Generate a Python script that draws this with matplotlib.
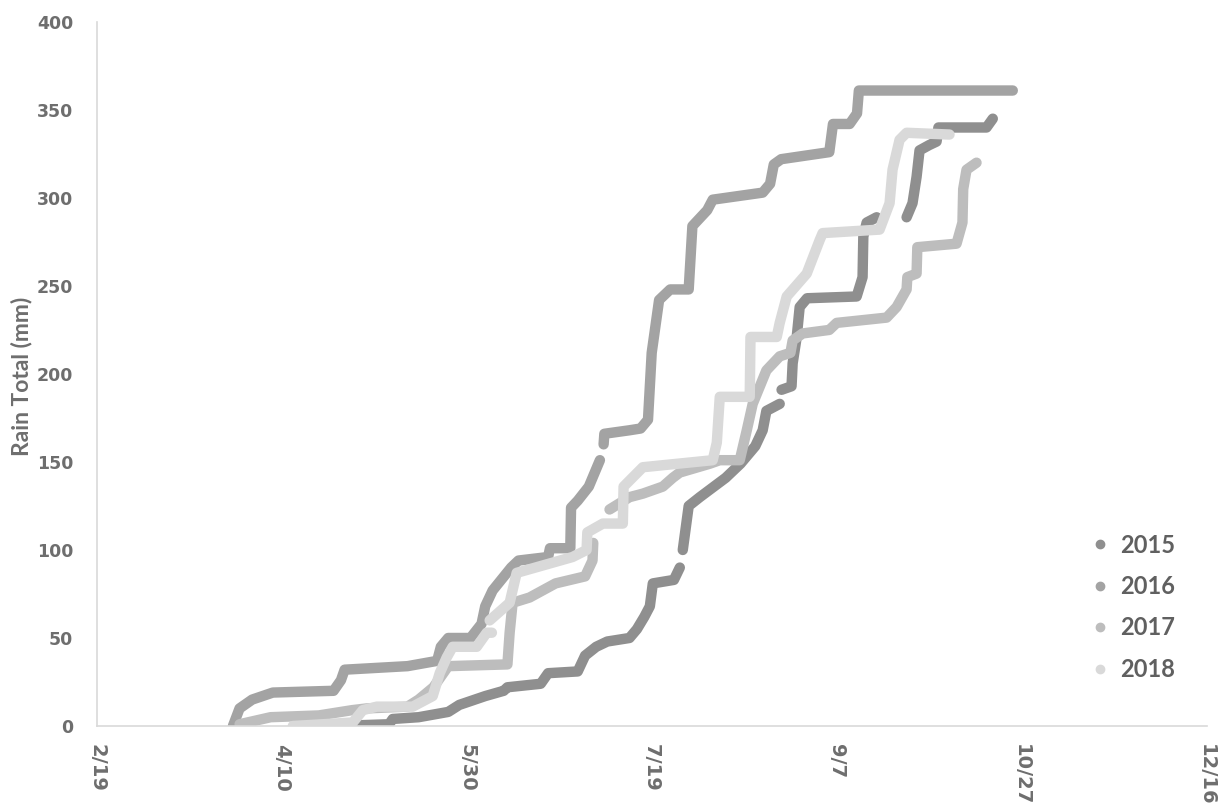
import numpy as np
import matplotlib
matplotlib.use("Agg")
import matplotlib.pyplot as plt
from matplotlib.lines import Line2D

# day of year (2/19 = 50) and cumulative rain (mm); None = gap in record
day_2015 = [115, 129, 130, 137, 145, 148, 155, 160, 161, 170, 172, 180, 182, 185, 188, 194, 196, 198,
            199.5, 200.3, 206, 207.6, None, 208.4, 210, 213, 220, 224, 228, 230, 231, 234.6, None,
            235.1, 237.8, 238.1, 239.2, 240, 242, 255.4, 257, 257.2, 258.1, 260.8, None,
            268.9, 270.5, 271.6, 272.4, 275, 277, 277.5, 290.5, 292.2]
rain_2015 = [0, 1, 4, 5, 8, 12, 17, 20, 22, 24, 30, 31, 40, 45, 48, 50, 55, 62,
             68, 81, 83, 90, None, 100, 125, 130, 141, 149, 159, 168, 179, 183, None,
             191, 193, 206, 221, 238, 243, 244, 255, 278, 286, 289, None,
             289, 297, 312, 327, 330, 332, 340, 340, 345]

day_2016 = [86.8, 88.6, 92, 97.6, 114, 116, 117, 134, 142, 143, 145, 151, 154, 155, 157, 162, 164,
            172, 172.5, 178, 178.2, 180, 183, 186, None, 187, 187.2, 194, 197, 199, 200, 202, 205,
            210, 211, 215, 216.5, 230, 232, 233, 235, 248, 249, 253.5, 255.5, 256, 297.6]
rain_2016 = [0, 10, 15, 19, 20, 26, 32, 34, 37, 45, 50, 50, 58, 68, 77, 90, 94,
             96, 101, 101, 124, 128, 136, 151, None, 160, 166, 168, 169, 174, 212, 242, 248,
             248, 284, 293, 299, 303, 308, 319, 322, 326, 342, 342, 348, 361, 361]

day_2017 = [88.6, 97, 110, 119, 123, 134, 137, 141, 143, 145, 161, 161.6, 162.4, 167, 174, 182, 184,
            184.2, None, 188.6, 194, 197.6, 203, 205.7, 207.6, 215.7, 218.4, 223.8, 225.7, 227.3,
            231, 234.6, 237.5, 238.1, 240.8, 248, 250, 263.5, 266.2, 268.9, 269.1, 271.6, 271.8,
            282.4, 284, 284.2, 285.1, 287.8]
rain_2017 = [1, 5, 6, 9, 10, 11, 15, 22, 28, 34, 35, 53, 70, 73, 81, 85, 94,
             104, None, 123, 130, 132, 136, 141, 144, 149, 151, 151, 168, 183,
             202, 210, 212, 219, 223, 225, 229, 232, 238, 248, 255, 257, 272,
             274, 286, 305, 316, 320]

day_2018 = [103, 119.2, 121.9, 125.7, 135.4, 140.8, 142.7, 144.6, 146.2, 152.7, 155.4, 156.8, None,
            156.2, 161.6, 163.5, 178.6, 182.4, 182.6, 186.8, 192.2, 192.4, 197.6, 216.5, 217.6,
            218.4, 226.5, 226.7, 233.8, 234.6, 236.5, 241.9, 245.4, 246.2, 261.6, 264.3, 265.1,
            267, 268.9, 280.5]
rain_2018 = [0, 2, 9, 11, 11, 17, 30, 39, 45, 45, 53, 53, None,
             60, 70, 87, 96, 100, 110, 115, 115, 136, 147, 151, 161,
             187, 187, 221, 221, 229, 244, 257, 276, 280, 282, 297, 316,
             333, 337, 336]

years = ["2015", "2016", "2017", "2018"]
days = [day_2015, day_2016, day_2017, day_2018]
rains = [rain_2015, rain_2016, rain_2017, rain_2018]
colors = ["#8f8f8f", "#a3a3a3", "#bdbdbd", "#d9d9d9"]

x_ticks = [50, 100, 150, 200, 250, 300, 350]
x_tick_labels = ["2/19", "4/10", "5/30", "7/19", "9/7", "10/27", "12/16"]
y_ticks = [0, 50, 100, 150, 200, 250, 300, 350, 400]

text_color = "#6e6e6e"

fig = plt.figure(figsize=(12.25, 8.1), dpi=100)
ax = fig.add_axes([0.079, 0.1037, 0.906, 0.8693])

for d, r, c in zip(days, rains, colors):
    xs = np.array([np.nan if v is None else v for v in d], dtype=float)
    ys = np.array([np.nan if v is None else v for v in r], dtype=float)
    ax.plot(xs, ys, color=c, lw=7.5, solid_capstyle="round", solid_joinstyle="round")

ax.set_xlim(50, 350)
ax.set_ylim(0, 400)
ax.set_xticks(x_ticks)
ax.set_xticklabels(x_tick_labels, rotation=270, fontsize=14, fontweight="bold",
                   color=text_color, va="top", ha="center")
ax.set_yticks(y_ticks)
ax.set_yticklabels([str(v) for v in y_ticks], fontsize=12.5, fontweight="bold", color=text_color)
ax.tick_params(axis="both", length=0)
ax.tick_params(axis="x", pad=13)
ax.tick_params(axis="y", pad=17)

for side in ["top", "right"]:
    ax.spines[side].set_visible(False)
for side in ["left", "bottom"]:
    ax.spines[side].set_color("#d9d9d9")
    ax.spines[side].set_linewidth(1.2)

ax.set_ylabel("Rain Total (mm)", fontsize=16.5, family="Lato", fontweight="bold", color=text_color)
ax.yaxis.set_label_coords(-0.058, 0.497)

handles = [Line2D([], [], marker="o", ls="none", color=c, markersize=6) for c in colors]
leg = ax.legend(handles, years, loc="lower right", bbox_to_anchor=(0.991, 0.034), frameon=False,
                labelspacing=0.78, handlelength=1.0, handletextpad=0.35,
                prop={"family": "Lato", "weight": "bold", "size": 17})
for t in leg.get_texts():
    t.set_color("#606060")

fig.savefig("out.png", dpi=100, facecolor="white")
